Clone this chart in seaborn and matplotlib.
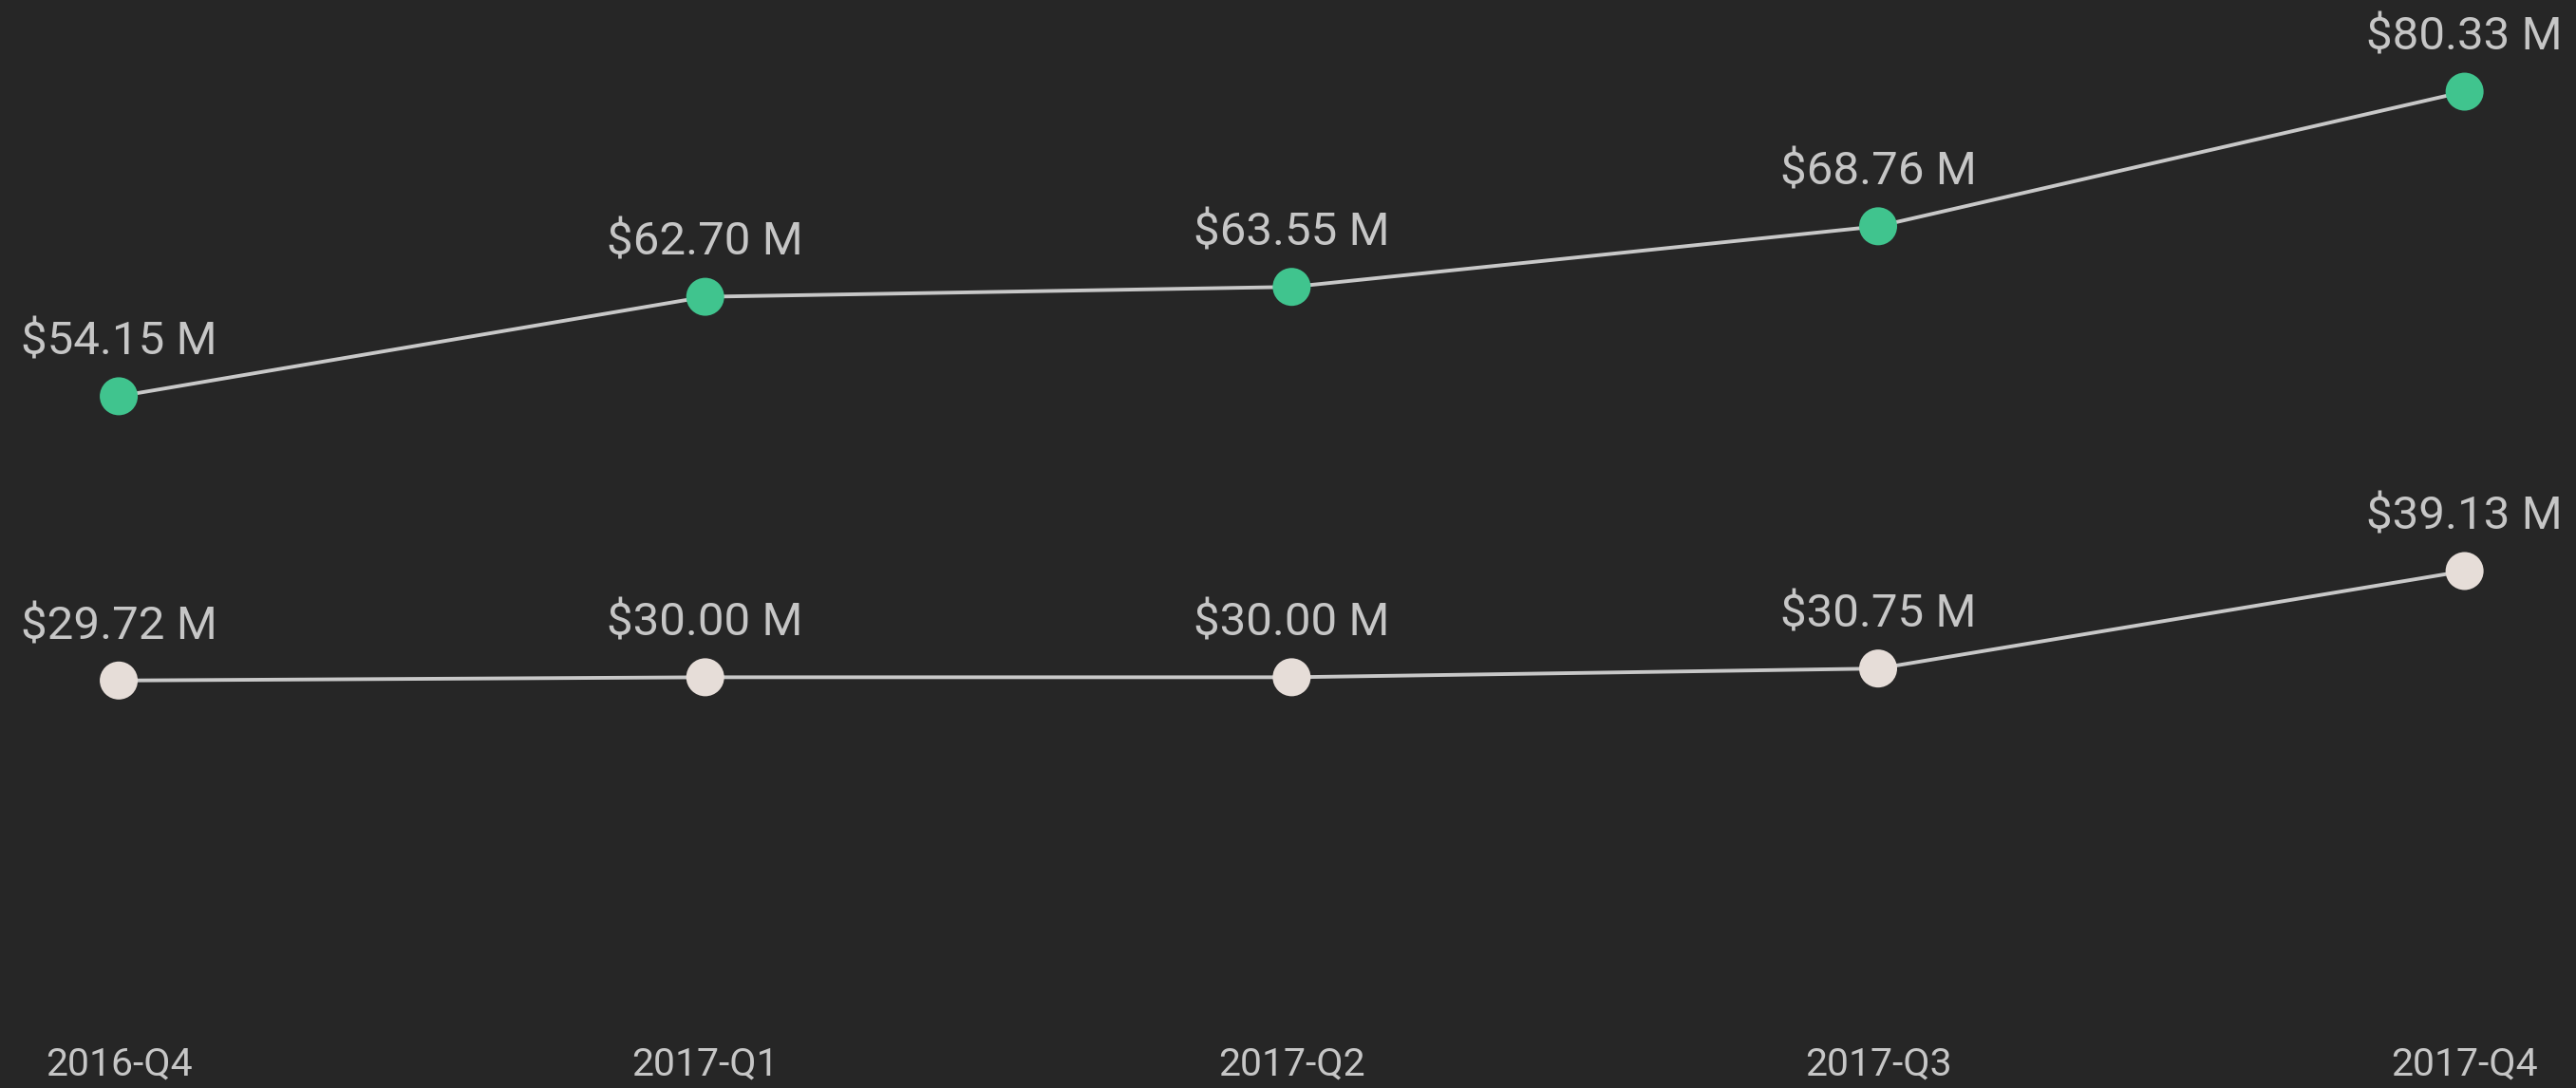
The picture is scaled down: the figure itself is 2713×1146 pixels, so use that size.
import matplotlib
matplotlib.use("Agg")
import matplotlib.pyplot as plt
import seaborn as sns
import pandas as pd

quarters = ["2016-Q4", "2017-Q1", "2017-Q2", "2017-Q3", "2017-Q4"]
series_top = [54.15, 62.70, 63.55, 68.76, 80.33]
series_bottom = [29.72, 30.00, 30.00, 30.75, 39.13]
series_names = ["top", "bottom"]
marker_colors = {"top": "#40c48e", "bottom": "#e6ddd8"}

bg = "#262626"
text_col = "#c6c6c6"
line_col = "#c8c8c8"

sns.set_theme(style="dark")
plt.rcParams["font.family"] = ["Roboto", "DejaVu Sans"]

df = pd.DataFrame({
    "x": list(range(len(quarters))) * 2,
    "value": series_top + series_bottom,
    "series": [series_names[0]] * len(quarters) + [series_names[1]] * len(quarters),
})

fig = plt.figure(figsize=(27.13, 11.46), dpi=100, facecolor=bg)
ax = fig.add_axes([0, 0.0567, 1, 0.909])
ax.set_facecolor(bg)

for name in series_names:
    sub = df[df["series"] == name]
    sns.lineplot(data=sub, x="x", y="value", ax=ax, color=line_col, linewidth=2.8, zorder=2)
    sns.scatterplot(data=sub, x="x", y="value", ax=ax, color=marker_colors[name], s=830,
                    edgecolor="none", zorder=3)
    for xi, v in zip(sub["x"], sub["value"]):
        ax.annotate(f"${v:.2f} M", (xi, v), xytext=(0, 31.5), textcoords="offset points",
                    ha="center", va="baseline", fontsize=35.5, color=text_col)

ax.set_xlim(-0.2025, 4.19)
ax.set_ylim(0, 85)
ax.set_xticks(range(len(quarters)))
ax.set_xticklabels(quarters, fontsize=29.5, color=text_col)
ax.tick_params(axis="x", length=0, pad=15)
ax.set_yticks([])
ax.set_xlabel("")
ax.set_ylabel("")
ax.grid(False)
for s in ax.spines.values():
    s.set_visible(False)

fig.savefig("out.png", dpi=100, facecolor=bg)
